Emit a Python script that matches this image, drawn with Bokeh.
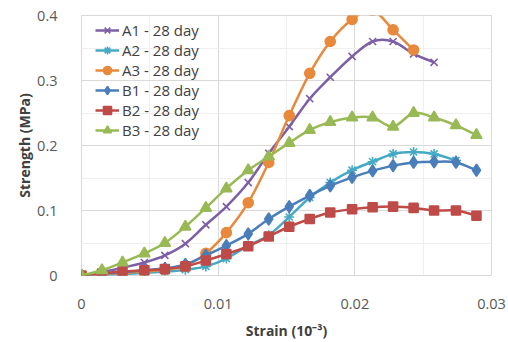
import numpy as np
from bokeh.plotting import figure
from bokeh.models import Range1d, FixedTicker, Legend, LegendItem
from bokeh.embed import file_html
from bokeh.resources import INLINE

# ---- data ----
strain = [0, 0.0015, 0.0030, 0.0046, 0.0061, 0.0076, 0.0091, 0.0106, 0.0122, 0.0137,
          0.0152, 0.0167, 0.0182, 0.0198, 0.0213, 0.0228, 0.0243, 0.0258, 0.0274, 0.0289]

a1 = [0, 0.005, 0.012, 0.020, 0.031, 0.049, 0.078, 0.106, 0.143, 0.188,
      0.229, 0.272, 0.305, 0.337, 0.360, 0.360, 0.341, 0.328]
a2 = [0, 0.001, 0.002, 0.004, 0.006, 0.009, 0.014, 0.026, 0.046, 0.062,
      0.090, 0.120, 0.143, 0.162, 0.175, 0.187, 0.190, 0.187, 0.177]
a3 = [0, 0.002, 0.004, 0.006, 0.009, 0.015, 0.034, 0.066, 0.112, 0.174,
      0.246, 0.311, 0.360, 0.394, 0.408, 0.378, 0.347]
b1 = [0, 0.003, 0.005, 0.008, 0.011, 0.017, 0.031, 0.046, 0.064, 0.087,
      0.106, 0.123, 0.138, 0.151, 0.161, 0.169, 0.174, 0.175, 0.174, 0.162]
b2 = [0, 0.003, 0.006, 0.008, 0.010, 0.014, 0.023, 0.033, 0.045, 0.060,
      0.075, 0.087, 0.097, 0.102, 0.105, 0.106, 0.104, 0.100, 0.100, 0.092]
b3 = [0, 0.008, 0.020, 0.034, 0.050, 0.075, 0.104, 0.134, 0.162, 0.183,
      0.204, 0.224, 0.236, 0.243, 0.243, 0.229, 0.250, 0.243, 0.231, 0.216]

series_names = ["A1 - 28 day", "A2 - 28 day", "A3 - 28 day",
                "B1 - 28 day", "B2 - 28 day", "B3 - 28 day"]
series_values = [a1, a2, a3, b1, b2, b3]

x_ticks = [0, 0.01, 0.02, 0.03]
x_tick_labels = ["0", "0.01", "0.02", "0.03"]
y_ticks = [0, 0.1, 0.2, 0.3, 0.4]
y_tick_labels = ["0", "0.1", "0.2", "0.3", "0.4"]

x_title = "Strain (10\u207b\u00b3)"
y_title = "Strength (MPa)"

# ---- styles ----
colors = ["#7D5FA6", "#46AAC5", "#E8893C", "#4A7EBB", "#BE4B48", "#98B954"]
markers = ["x", "asterisk", "circle", "diamond", "square", "triangle"]
msizes = [10, 10, 10, 12, 9, 11]
FONT = "Open Sans"


def bezier_segments(xs, ys):
    x = np.asarray(xs, float)
    y = np.asarray(ys, float)
    n = len(x)
    qx = np.concatenate([[x[0]], x, [x[-1]]])
    qy = np.concatenate([[y[0]], y, [y[-1]]])
    cx0 = x[:-1] + (qx[2:n + 1] - qx[0:n - 1]) / 6.0
    cy0 = y[:-1] + (qy[2:n + 1] - qy[0:n - 1]) / 6.0
    cx1 = x[1:] - (qx[3:n + 2] - qx[1:n]) / 6.0
    cy1 = y[1:] - (qy[3:n + 2] - qy[1:n]) / 6.0
    return dict(x0=x[:-1], y0=y[:-1], x1=x[1:], y1=y[1:],
                cx0=cx0, cy0=cy0, cx1=cx1, cy1=cy1)


p = figure(width=508, height=342, output_backend="svg", toolbar_location=None,
           x_range=Range1d(0, 0.03), y_range=Range1d(0, 0.4),
           min_border_left=81, min_border_right=17, min_border_top=15,
           min_border_bottom=67)
p.background_fill_color = "white"
p.border_fill_color = "white"
p.outline_line_color = "#D9D9D9"
p.outline_line_width = 1

p.xaxis.ticker = FixedTicker(ticks=x_ticks,
                             minor_ticks=list(np.arange(0.005, 0.03, 0.01)))
p.yaxis.ticker = FixedTicker(ticks=y_ticks,
                             minor_ticks=list(np.arange(0.05, 0.4, 0.1)))
p.xaxis.major_label_overrides = {t: l for t, l in zip(x_ticks, x_tick_labels)}
p.yaxis.major_label_overrides = {t: l for t, l in zip(y_ticks, y_tick_labels)}

for ax in (p.xaxis, p.yaxis):
    ax.axis_line_color = None
    ax.major_tick_line_color = None
    ax.minor_tick_line_color = None
    ax.major_label_text_font = FONT
    ax.major_label_text_font_size = "14.5px"
    ax.major_label_text_color = "#595959"
    ax.axis_label_text_font = FONT
    ax.axis_label_text_font_size = "14px"
    ax.axis_label_text_font_style = "bold"
    ax.axis_label_text_color = "#404040"

p.xaxis.axis_label = x_title
p.yaxis.axis_label = y_title
p.xaxis.major_label_standoff = 17
p.yaxis.major_label_standoff = 18
p.xaxis.axis_label_standoff = 9
p.yaxis.axis_label_standoff = 0

p.xgrid.grid_line_color = "#D9D9D9"
p.ygrid.grid_line_color = "#D9D9D9"
p.xgrid.minor_grid_line_color = "#EFEFEF"
p.ygrid.minor_grid_line_color = "#EFEFEF"

items = []
for name, vals, col, mk, ms in zip(series_names, series_values, colors, markers, msizes):
    xs = strain[:len(vals)]
    bez = p.bezier(line_color=col, line_width=2.5, **bezier_segments(xs, vals))
    key_line = p.line(x=xs[:1], y=vals[:1], line_color=col, line_width=2.5)
    sc = p.scatter(x=xs, y=vals, marker=mk, size=ms, fill_color=col,
                   line_color=col, line_width=1.6)
    items.append(LegendItem(label=name, renderers=[key_line, sc]))

legend = Legend(items=items, location=(14, 135), padding=0, spacing=0, margin=0,
                glyph_width=24, glyph_height=20, label_height=20, label_standoff=3,
                label_text_font=FONT, label_text_font_size="15px",
                label_text_line_height=1.0,
                label_text_color="#404040",
                background_fill_alpha=0, border_line_alpha=0)
p.add_layout(legend, "center")

open("out.html", "w").write(file_html(p, INLINE))
